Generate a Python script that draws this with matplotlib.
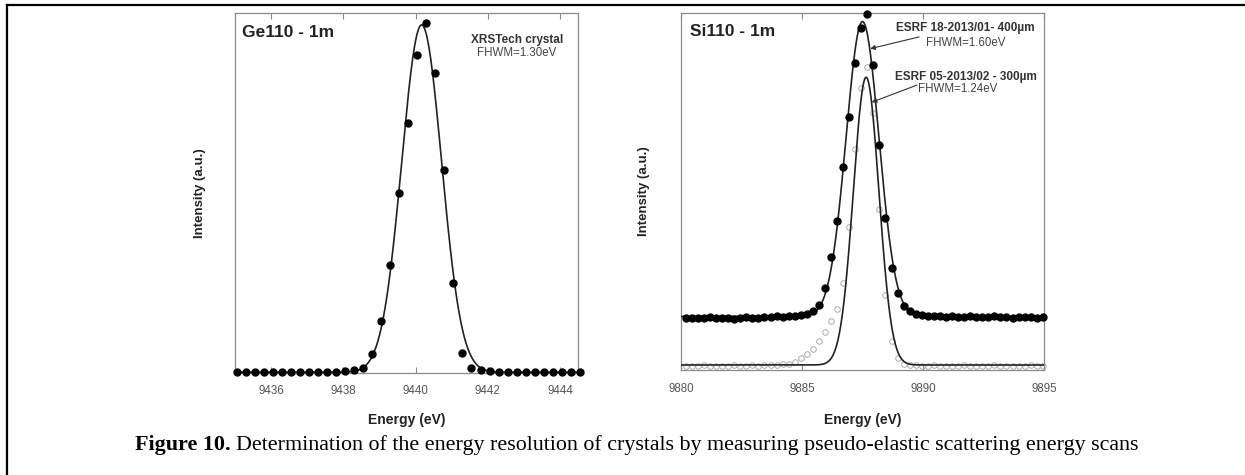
import numpy as np
import matplotlib
matplotlib.use('Agg')
import matplotlib.pyplot as plt
from matplotlib.lines import Line2D

plt.rcParams['font.family'] = ['Liberation Sans', 'DejaVu Sans']

# Ge110 scan (left panel), normalised intensity
ge_energy = [9435.05, 9435.30, 9435.55, 9435.80, 9436.05, 9436.30, 9436.55, 9436.80,
             9437.05, 9437.30, 9437.55, 9437.80, 9438.05, 9438.30, 9438.55,
             9438.80, 9439.05, 9439.30, 9439.55, 9439.80, 9440.05, 9440.30, 9440.55,
             9440.80, 9441.05, 9441.30, 9441.55, 9441.80, 9442.05,
             9442.30, 9442.55, 9442.80, 9443.05, 9443.30, 9443.55, 9443.80, 9444.05,
             9444.30, 9444.55]
ge_int = [0.002, 0.002, 0.003, 0.002, 0.002, 0.003, 0.002, 0.003,
          0.003, 0.003, 0.004, 0.004, 0.006, 0.007, 0.015,
          0.052, 0.144, 0.300, 0.499, 0.694, 0.883, 0.973, 0.834,
          0.564, 0.250, 0.056, 0.015, 0.008, 0.006,
          0.004, 0.003, 0.003, 0.003, 0.002, 0.003, 0.002, 0.003,
          0.002, 0.003]
# fit parameters (gaussian)
ge_fit = dict(center=9440.17, fwhm=1.30, amp=0.965, base=0.002)

# Si110 scans (right panel)
si_energy = [9880.20, 9880.45, 9880.70, 9880.95, 9881.20, 9881.45, 9881.70, 9881.95,
             9882.20, 9882.45, 9882.70, 9882.95, 9883.20, 9883.45, 9883.70, 9883.95,
             9884.20, 9884.45, 9884.70, 9884.95, 9885.20, 9885.45, 9885.70, 9885.95,
             9886.20, 9886.45, 9886.70, 9886.95, 9887.20, 9887.45, 9887.70, 9887.95,
             9888.20, 9888.45, 9888.70, 9888.95, 9889.20, 9889.45, 9889.70, 9889.95,
             9890.20, 9890.45, 9890.70, 9890.95, 9891.20, 9891.45, 9891.70, 9891.95,
             9892.20, 9892.45, 9892.70, 9892.95, 9893.20, 9893.45, 9893.70, 9893.95,
             9894.20, 9894.45, 9894.70, 9894.95]
si_a = [0.146, 0.145, 0.147, 0.146, 0.148, 0.147, 0.145, 0.146,
        0.144, 0.147, 0.148, 0.146, 0.147, 0.149, 0.148, 0.150,
        0.149, 0.151, 0.152, 0.154, 0.158, 0.165, 0.182, 0.229,
        0.317, 0.418, 0.569, 0.710, 0.859, 0.957, 0.997, 0.854,
        0.630, 0.427, 0.285, 0.217, 0.180, 0.166, 0.158, 0.155,
        0.152, 0.150, 0.151, 0.149, 0.150, 0.148, 0.149, 0.150,
        0.149, 0.148, 0.149, 0.150, 0.148, 0.149, 0.147, 0.148,
        0.149, 0.148, 0.147, 0.149]
si_b = [0.012, 0.011, 0.012, 0.013, 0.012, 0.011, 0.012, 0.012,
        0.013, 0.012, 0.012, 0.013, 0.012, 0.013, 0.014, 0.014,
        0.016, 0.018, 0.022, 0.033, 0.045, 0.058, 0.082, 0.107,
        0.138, 0.170, 0.243, 0.400, 0.620, 0.790, 0.850, 0.720,
        0.450, 0.210, 0.080, 0.035, 0.018, 0.014, 0.013, 0.012,
        0.012, 0.013, 0.012, 0.011, 0.012, 0.012, 0.013, 0.012,
        0.011, 0.012, 0.012, 0.013, 0.012, 0.012, 0.011, 0.012,
        0.012, 0.013, 0.012, 0.012]
si_fit_a = dict(center=9887.50, fwhm=1.60, amp=0.826, base=0.150)
si_fit_b = dict(center=9887.65, fwhm=1.24, amp=0.806, base=0.014)

ge_ticks = [9436, 9438, 9440, 9442, 9444]
si_ticks = [9880, 9885, 9890, 9895]


def gauss(x, center, fwhm, amp, base):
    s = fwhm / 2.3548
    return base + amp * np.exp(-(x - center) ** 2 / (2 * s ** 2))


W, H = 1245, 475
fig = plt.figure(figsize=(W / 100, H / 100), dpi=100)

ax1 = fig.add_axes([235 / W, 1 - 373 / H, 343 / W, 360 / H])
ax2 = fig.add_axes([681 / W, 1 - 370 / H, 363 / W, 357 / H])

spine_c = '#8a8a8a'
for ax in (ax1, ax2):
    for sp in ax.spines.values():
        sp.set_color(spine_c)
        sp.set_linewidth(0.9)
    ax.tick_params(axis='x', direction='in', top=True, length=4, color=spine_c,
                   labelsize=8.3, labelcolor='#555555', pad=9)
    ax.tick_params(axis='y', left=False, right=False, labelleft=False)
    ax.set_ylim(0, 1)
    ax.set_xlabel('Energy (eV)', fontsize=10, fontweight='bold', color='#222222')
    ax.set_ylabel('Intensity (a.u.)', fontsize=9.5, fontweight='bold', color='#222222')

# left panel
xf = np.linspace(9435, 9444.6, 600)
ax1.plot(xf, gauss(xf, **ge_fit), color='#222222', lw=1.2)
ax1.plot(ge_energy, ge_int, 'o', color='black', ms=5, clip_on=False, zorder=3)
ax1.set_xlim(9435, 9444.5)
ax1.set_xticks(ge_ticks)
ax1.xaxis.set_label_coords(0.5, -0.11)
ax1.yaxis.set_label_coords(-0.085, 0.5)
ax1.text(0.02, 0.947, 'Ge110 - 1m', transform=ax1.transAxes, fontsize=12.5,
         fontweight='bold', ha='left', va='center', color='#222222')
ax1.text(0.822, 0.925, 'XRSTech crystal', transform=ax1.transAxes, fontsize=8.5,
         fontweight='bold', ha='center', va='center', color='#333333')
ax1.text(0.822, 0.889, 'FHWM=1.30eV', transform=ax1.transAxes, fontsize=8.3,
         ha='center', va='center', color='#444444')

# right panel
xf2 = np.linspace(9880, 9895, 800)
ax2.plot(si_energy, si_b, 'o', mfc='none', mec='#ababab', mew=0.7, ms=4,
         clip_on=False, zorder=2)
ax2.plot(xf2, gauss(xf2, **si_fit_b), color='#222222', lw=1.2, zorder=3)
ax2.plot(xf2, gauss(xf2, **si_fit_a), color='#222222', lw=1.2, zorder=3)
ax2.plot(si_energy, si_a, 'o', color='black', ms=5, clip_on=False, zorder=4)
ax2.set_xlim(9880, 9895)
ax2.set_xticks(si_ticks)
ax2.xaxis.set_label_coords(0.5, -0.12)
ax2.yaxis.set_label_coords(-0.085, 0.5)
ax2.text(0.025, 0.947, 'Si110 - 1m', transform=ax2.transAxes, fontsize=12.5,
         fontweight='bold', ha='left', va='center', color='#222222')
ax2.text(0.782, 0.958, 'ESRF 18-2013/01- 400\u00b5m', transform=ax2.transAxes,
         fontsize=8.5, fontweight='bold', ha='center', va='center', color='#333333')
ax2.text(0.785, 0.916, 'FHWM=1.60eV', transform=ax2.transAxes, fontsize=8.3,
         ha='center', va='center', color='#444444')
ax2.text(0.785, 0.821, 'ESRF 05-2013/02 - 300\u00b5m', transform=ax2.transAxes,
         fontsize=8.5, fontweight='bold', ha='center', va='center', color='#333333')
ax2.text(0.762, 0.787, 'FHWM=1.24eV', transform=ax2.transAxes, fontsize=8.3,
         ha='center', va='center', color='#444444')
arrow = dict(arrowstyle='-|>', lw=0.8, color='#333333', mutation_scale=7,
             shrinkA=0, shrinkB=0)
ax2.annotate('', xy=(9887.82, 0.90), xytext=(9889.84, 0.933), arrowprops=arrow)
ax2.annotate('', xy=(9887.88, 0.75), xytext=(9889.75, 0.798), arrowprops=arrow)

# caption: bold figure number followed by plain text
cap_y = 1 - 445 / H
t1 = fig.text(135 / W, cap_y, 'Figure 10.', ha='left', va='center', fontsize=15.8,
              fontweight='bold', family='Liberation Serif')
fig.canvas.draw()
bb = t1.get_window_extent()
fig.text((bb.x1 + 5) / W, cap_y,
         'Determination of the energy resolution of crystals by measuring '
         'pseudo-elastic scattering energy scans',
         ha='left', va='center', fontsize=15.8, family='Liberation Serif')

# page frame (top and left edges)
fig.add_artist(Line2D([7 / W, 1], [1 - 5 / H, 1 - 5 / H], color='black', lw=1.6,
                      transform=fig.transFigure))
fig.add_artist(Line2D([7 / W, 7 / W], [0, 1 - 5 / H], color='black', lw=1.6,
                      transform=fig.transFigure))

fig.savefig('out.png', dpi=100)
